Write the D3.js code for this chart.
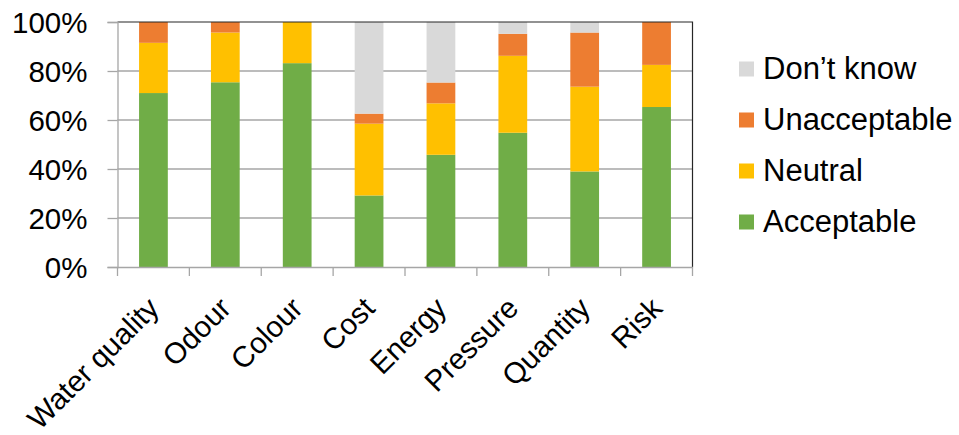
<!DOCTYPE html>
<html>
<head>
<meta charset="utf-8">
<script src="https://cdn.jsdelivr.net/npm/d3@7"></script>
<style>
  html, body { margin: 0; padding: 0; background: #fff; }
  svg { display: block; }
  text { font-family: "Liberation Sans", Arial, sans-serif; fill: #000; }
</style>
</head>
<body>
<svg id="chart" width="959" height="435"></svg>
<script>
// Survey responses per attribute (share of respondents, %)
const categories = ["Water quality", "Odour", "Colour", "Cost", "Energy", "Pressure", "Quantity", "Risk"];
const acceptable   = [71.0, 75.4, 83.2, 29.2, 45.8, 54.8, 39.0, 65.3];
const neutral      = [20.5, 20.3, 16.8, 29.3, 21.0, 31.4, 34.6, 17.2];
const unacceptable = [ 8.5,  4.3,  0.0,  4.1,  8.5,  9.0, 22.1, 17.5];
const dontKnow     = [ 0.0,  0.0,  0.0, 37.4, 24.7,  4.8,  4.3,  0.0];
const seriesNames  = ["Acceptable", "Neutral", "Unacceptable", "Don\u2019t know"];
const seriesColors = ["#70AD47", "#FFC000", "#ED7D31", "#D9D9D9"];
const yTicks = [0, 0.2, 0.4, 0.6, 0.8, 1.0];

const svg = d3.select("#chart");
const plot = { left: 117.5, right: 692.5, top: 22, bottom: 267 };

const rows = categories.map((c, i) => ({
  category: c,
  "Acceptable": acceptable[i] / 100,
  "Neutral": neutral[i] / 100,
  "Unacceptable": unacceptable[i] / 100,
  "Don\u2019t know": dontKnow[i] / 100
}));

const x = d3.scaleBand()
  .domain(categories)
  .range([plot.left, plot.right])
  .paddingInner(0.6)
  .paddingOuter(0.3);

const y = d3.scaleLinear().domain([0, 1]).range([plot.bottom, plot.top]);

const color = d3.scaleOrdinal().domain(seriesNames).range(seriesColors);

// horizontal gridlines
svg.append("g")
  .selectAll("line")
  .data(yTicks.slice(1, -1))
  .join("line")
  .attr("x1", plot.left).attr("x2", plot.right)
  .attr("y1", d => y(d)).attr("y2", d => y(d))
  .attr("stroke", "#a6a6a6").attr("stroke-width", 1.3);

// stacked bars
const stacked = d3.stack().keys(seriesNames)(rows);
svg.append("g")
  .selectAll("g")
  .data(stacked)
  .join("g")
  .attr("fill", d => color(d.key))
  .selectAll("rect")
  .data(d => d)
  .join("rect")
  .attr("x", d => x(d.data.category))
  .attr("width", x.bandwidth())
  .attr("y", d => y(d[1]))
  .attr("height", d => y(d[0]) - y(d[1]));

// plot frame: top and right edges
svg.append("path")
  .attr("d", `M${plot.left},${plot.top}H${plot.right}V${plot.bottom}`)
  .attr("fill", "none").attr("stroke", "#262626").attr("stroke-width", 1.2);

// y axis
const yAxis = svg.append("g")
  .attr("transform", `translate(${plot.left},0)`)
  .call(d3.axisLeft(y).tickValues(yTicks).tickFormat(d3.format(".0%")).tickSize(10).tickPadding(0));
yAxis.select(".domain").attr("stroke", "#a6a6a6").attr("stroke-width", 1.3);
yAxis.selectAll(".tick line").attr("stroke", "#a6a6a6").attr("stroke-width", 1.3);
yAxis.selectAll(".tick text")
  .attr("x", -30).attr("y", 10).attr("dy", null)
  .attr("text-anchor", "end")
  .style("font-size", "29.5px")
  .style("font-family", "'Liberation Sans', Arial, sans-serif")
  .attr("fill", "#000");

// x axis: boundary tick marks between categories
const step = x.step();
const bounds = d3.range(categories.length + 1).map(i => plot.left + i * step);
svg.append("g")
  .selectAll("line")
  .data(bounds)
  .join("line")
  .attr("x1", d => d).attr("x2", d => d)
  .attr("y1", plot.bottom).attr("y2", plot.bottom + 9)
  .attr("stroke", "#a6a6a6").attr("stroke-width", 1.3);

const xAxis = svg.append("g")
  .attr("transform", `translate(0,${plot.bottom})`)
  .call(d3.axisBottom(x).tickSize(0).tickPadding(0));
xAxis.select(".domain").attr("stroke", "#a6a6a6").attr("stroke-width", 1.3);
xAxis.selectAll(".tick text")
  .attr("y", null).attr("dy", null)
  .attr("transform", `translate(${x.bandwidth() / 2 - 7},43) rotate(-45)`)
  .attr("text-anchor", "end")
  .style("font-size", "29.5px")
  .style("font-family", "'Liberation Sans', Arial, sans-serif")
  .attr("fill", "#000");

// legend, top entry is the last series
const legend = svg.append("g")
  .selectAll("g")
  .data(seriesNames.slice().reverse())
  .join("g")
  .attr("transform", (d, i) => `translate(739,${69 + i * 51})`);
legend.append("rect")
  .attr("x", 0).attr("y", -7.5)
  .attr("width", 15).attr("height", 15)
  .attr("fill", d => color(d));
legend.append("text")
  .attr("x", 24).attr("y", 10)
  .style("font-size", "31px")
  .text(d => d);
</script>
</body>
</html>
